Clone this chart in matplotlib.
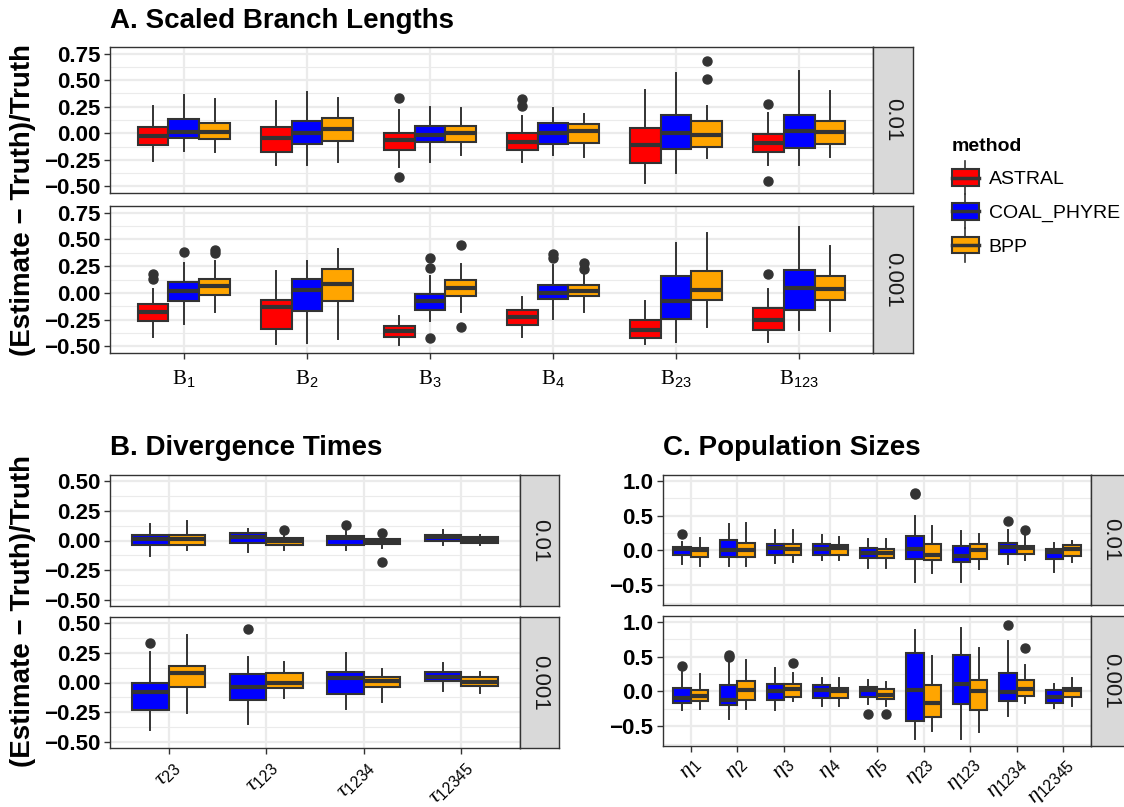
import matplotlib
matplotlib.use("Agg")
import matplotlib.pyplot as plt
from matplotlib.patches import Rectangle, Patch
from matplotlib.lines import Line2D
from matplotlib.legend_handler import HandlerBase

plt.rcParams['font.family'] = ['Liberation Sans', 'DejaVu Sans']
plt.rcParams['mathtext.fontset'] = 'custom'
plt.rcParams['mathtext.rm'] = 'Liberation Serif'
plt.rcParams['mathtext.it'] = 'Liberation Serif:italic'
plt.rcParams['mathtext.sf'] = 'Liberation Sans'

# ---- data: per box (whisker low, Q1, median, Q3, whisker high) ----
methods = ['ASTRAL', 'COAL_PHYRE', 'BPP']
colors = {'ASTRAL': '#FF0000', 'COAL_PHYRE': '#0000FF', 'BPP': '#FFA500'}
facets = ['0.01', '0.001']

# A. scaled branch lengths
a_labels = [r'$\mathrm{B}_{\mathsf{1}}$', r'$\mathrm{B}_{\mathsf{2}}$', r'$\mathrm{B}_{\mathsf{3}}$',
            r'$\mathrm{B}_{\mathsf{4}}$', r'$\mathrm{B}_{\mathsf{23}}$', r'$\mathrm{B}_{\mathsf{123}}$']

a_hi_astral = [[-0.26, -0.11, -0.03, 0.056, 0.26], [-0.30, -0.18, -0.04, 0.056, 0.30],
               [-0.32, -0.16, -0.06, 0.0, 0.22], [-0.27, -0.16, -0.08, 0.006, 0.16],
               [-0.47, -0.28, -0.11, 0.05, 0.41], [-0.30, -0.18, -0.09, -0.006, 0.19]]
a_hi_astral_out = [[], [], [0.33, -0.41], [0.32, 0.26], [], [0.28, -0.45]]
a_hi_coal = [[-0.17, -0.04, 0.015, 0.13, 0.36], [-0.30, -0.10, 0.005, 0.12, 0.39],
             [-0.27, -0.08, -0.02, 0.07, 0.25], [-0.20, -0.10, 0.0, 0.096, 0.24],
             [-0.37, -0.15, 0.0, 0.17, 0.57], [-0.30, -0.14, 0.02, 0.17, 0.59]]
a_hi_coal_out = [[], [], [], [], [], []]
a_hi_bpp = [[-0.18, -0.05, 0.01, 0.10, 0.32], [-0.27, -0.07, 0.04, 0.14, 0.33],
            [-0.20, -0.08, 0.0, 0.07, 0.24], [-0.22, -0.09, 0.02, 0.083, 0.18],
            [-0.23, -0.13, -0.02, 0.12, 0.26], [-0.22, -0.10, 0.01, 0.12, 0.40]]
a_hi_bpp_out = [[], [], [], [], [0.68, 0.51], []]

a_lo_astral = [[-0.41, -0.26, -0.18, -0.105, 0.04], [-0.48, -0.34, -0.13, -0.07, 0.20],
               [-0.49, -0.41, -0.36, -0.31, -0.22], [-0.41, -0.30, -0.23, -0.16, -0.04],
               [-0.48, -0.42, -0.35, -0.25, -0.08], [-0.46, -0.35, -0.25, -0.14, 0.04]]
a_lo_astral_out = [[0.18, 0.13], [], [], [], [], [0.18]]
a_lo_coal = [[-0.29, -0.08, 0.02, 0.10, 0.28], [-0.47, -0.17, 0.025, 0.13, 0.30],
             [-0.26, -0.16, -0.08, -0.008, 0.16], [-0.24, -0.06, 0.0, 0.075, 0.26],
             [-0.46, -0.24, -0.08, 0.16, 0.47], [-0.35, -0.16, 0.05, 0.21, 0.62]]
a_lo_coal_out = [[0.38], [], [0.33, 0.23, -0.42], [0.36, 0.33], [], []]
a_lo_bpp = [[-0.18, -0.02, 0.06, 0.13, 0.30], [-0.43, -0.08, 0.08, 0.22, 0.41],
            [-0.18, -0.03, 0.05, 0.12, 0.27], [-0.18, -0.03, 0.017, 0.07, 0.17],
            [-0.32, -0.07, 0.03, 0.20, 0.56], [-0.36, -0.07, 0.035, 0.16, 0.44]]
a_lo_bpp_out = [[0.40, 0.37], [], [0.45, -0.32], [0.28, 0.22], [], []]

# B. divergence times
b_labels = [r'$\tau_{\mathsf{23}}$', r'$\tau_{\mathsf{123}}$', r'$\tau_{\mathsf{1234}}$', r'$\tau_{\mathsf{12345}}$']

b_hi_coal = [[-0.13, -0.036, 0.01, 0.05, 0.14], [-0.10, -0.017, 0.03, 0.064, 0.10],
             [-0.08, -0.034, 0.02, 0.034, 0.08], [-0.036, -0.006, 0.03, 0.05, 0.09]]
b_hi_coal_out = [[], [], [0.13], []]
b_hi_bpp = [[-0.08, -0.036, 0.01, 0.05, 0.16], [-0.08, -0.034, -0.008, 0.02, 0.04],
            [-0.06, -0.03, -0.005, 0.014, 0.02], [-0.036, -0.017, 0.008, 0.028, 0.045]]
b_hi_bpp_out = [[], [0.09], [0.06, -0.18], []]

b_lo_coal = [[-0.40, -0.23, -0.08, -0.006, 0.26], [-0.35, -0.145, -0.04, 0.07, 0.21],
             [-0.22, -0.10, 0.04, 0.09, 0.25], [-0.07, 0.014, 0.05, 0.084, 0.16]]
b_lo_coal_out = [[0.33], [0.45], [], []]
b_lo_bpp = [[-0.26, -0.036, 0.08, 0.14, 0.40], [-0.13, -0.05, -0.008, 0.08, 0.17],
            [-0.16, -0.04, 0.01, 0.05, 0.11], [-0.09, -0.03, 0.006, 0.05, 0.09]]
b_lo_bpp_out = [[], [], [], []]

# C. population sizes
c_labels = [r'$\eta_{\mathsf{1}}$', r'$\eta_{\mathsf{2}}$', r'$\eta_{\mathsf{3}}$', r'$\eta_{\mathsf{4}}$',
            r'$\eta_{\mathsf{5}}$', r'$\eta_{\mathsf{23}}$', r'$\eta_{\mathsf{123}}$',
            r'$\eta_{\mathsf{1234}}$', r'$\eta_{\mathsf{12345}}$']

c_hi_coal = [[-0.19, -0.07, 0.02, 0.05, 0.12], [-0.23, -0.10, 0.01, 0.15, 0.38],
             [-0.18, -0.07, 0.03, 0.09, 0.29], [-0.14, -0.07, 0.025, 0.09, 0.22],
             [-0.25, -0.11, -0.03, 0.03, 0.17], [-0.45, -0.13, 0.015, 0.21, 0.50],
             [-0.46, -0.17, -0.08, 0.06, 0.28], [-0.19, -0.05, 0.05, 0.10, 0.30],
             [-0.31, -0.13, -0.02, 0.02, 0.10]]
c_hi_coal_out = [[0.23], [], [], [], [], [0.81, 0.83], [], [0.43], []]
c_hi_bpp = [[-0.23, -0.09, 0.005, 0.035, 0.18], [-0.23, -0.10, 0.01, 0.11, 0.39],
            [-0.16, -0.064, 0.02, 0.09, 0.30], [-0.14, -0.064, 0.03, 0.08, 0.19],
            [-0.25, -0.11, -0.04, 0.015, 0.16], [-0.33, -0.14, -0.06, 0.09, 0.35],
            [-0.26, -0.13, 0.005, 0.09, 0.24], [-0.14, -0.05, 0.03, 0.07, 0.24],
            [-0.17, -0.08, 0.015, 0.08, 0.14]]
c_hi_bpp_out = [[], [], [], [], [], [], [], [0.30], []]

c_lo_coal = [[-0.27, -0.16, -0.10, 0.05, 0.28], [-0.39, -0.20, -0.13, 0.09, 0.43],
             [-0.27, -0.13, 0.0, 0.10, 0.34], [-0.21, -0.09, 0.015, 0.09, 0.20],
             [-0.18, -0.074, 0.025, 0.064, 0.16], [-0.69, -0.42, 0.025, 0.55, 0.89],
             [-0.68, -0.18, 0.11, 0.52, 0.91], [-0.36, -0.14, -0.01, 0.26, 0.73],
             [-0.24, -0.17, -0.08, 0.025, 0.10]]
c_lo_coal_out = [[0.36], [0.53, 0.50], [], [], [-0.32], [], [], [0.96], []]
c_lo_bpp = [[-0.25, -0.14, -0.06, 0.025, 0.25], [-0.25, -0.12, 0.015, 0.15, 0.45],
            [-0.14, -0.08, 0.04, 0.11, 0.26], [-0.21, -0.09, 0.0, 0.054, 0.20],
            [-0.21, -0.11, -0.05, 0.03, 0.14], [-0.57, -0.37, -0.17, 0.09, 0.51],
            [-0.58, -0.26, 0.0, 0.17, 0.63], [-0.17, -0.06, 0.04, 0.16, 0.38],
            [-0.21, -0.074, 0.025, 0.054, 0.20]]
c_lo_bpp_out = [[], [], [0.41], [], [-0.32], [], [], [0.63], []]

W, H = 1124, 807
EDGE = '#333333'
GRID = '#EBEBEB'

fig = plt.figure(figsize=(W / 100, H / 100), dpi=100)


def rect(x0, y0, x1, y1):
    # pixel box (top-left origin) -> figure fraction rect
    return [x0 / W, 1 - y1 / H, (x1 - x0) / W, (y1 - y0) / H]


def fmt(v, nd):
    return f'{v:.{nd}f}'.replace('-', '\u2212')


def facet(box_px, strip_x1, label, groups, ylim, yticks, minors, nd, xlabels=None, rot=0):
    ax = fig.add_axes(rect(*box_px))
    n = len(groups[0][1])
    k = len(groups)
    w = 0.75 / k
    for j, (meth, stats, outs) in enumerate(groups):
        pos = [i + 1 + (j - (k - 1) / 2) * w for i in range(n)]
        bxs = [dict(whislo=s[0], q1=s[1], med=s[2], q3=s[3], whishi=s[4], fliers=o)
               for s, o in zip(stats, outs)]
        ax.bxp(bxs, positions=pos, widths=w, patch_artist=True, showcaps=False,
               manage_ticks=False,
               boxprops=dict(facecolor=colors[meth], edgecolor=EDGE, linewidth=1.5),
               medianprops=dict(color=EDGE, linewidth=3.0, solid_capstyle='butt'),
               whiskerprops=dict(color=EDGE, linewidth=1.4),
               flierprops=dict(marker='o', markerfacecolor=EDGE, markeredgecolor=EDGE,
                               markersize=6.5))
    ax.set_xlim(0.4, n + 0.6)
    ax.set_ylim(*ylim)
    ax.set_yticks(yticks)
    ax.set_yticklabels([fmt(t, nd) for t in yticks], fontsize=16, fontweight='bold')
    ax.set_yticks(minors, minor=True)
    ax.tick_params(axis='y', which='minor', length=0)
    ax.set_xticks(range(1, n + 1))
    ax.grid(which='major', color=GRID, linewidth=1.6)
    ax.grid(which='minor', axis='y', color=GRID, linewidth=0.8)
    ax.set_axisbelow(True)
    for sp in ax.spines.values():
        sp.set_color(EDGE)
        sp.set_linewidth(1.0)
    ax.tick_params(axis='both', which='major', length=4, width=1.0, color=EDGE, pad=3)
    if xlabels is None:
        ax.tick_params(axis='x', length=0, labelbottom=False)
    else:
        if rot:
            ax.set_xticklabels(xlabels, fontsize=16, rotation=rot, ha='right', va='top',
                               rotation_mode='anchor')
            ax.tick_params(axis='x', pad=2)
        else:
            ax.set_xticklabels(xlabels, fontsize=15)
            ax.tick_params(axis='x', pad=7)
    # facet strip on the right
    st = fig.add_axes(rect(box_px[2], box_px[1], strip_x1, box_px[3]))
    st.set_facecolor('#D9D9D9')
    st.set_xticks([])
    st.set_yticks([])
    for sp in st.spines.values():
        sp.set_color(EDGE)
        sp.set_linewidth(1.0)
    st.text(0.5, 0.5, label, rotation=-90, ha='center', va='center', fontsize=16,
            color='#1A1A1A', transform=st.transAxes)
    return ax


# panel A
a_ticks = [-0.5, -0.25, 0.0, 0.25, 0.5, 0.75]
a_minor = [-0.375, -0.125, 0.125, 0.375, 0.625]
facet((110, 47, 873, 193), 913, facets[0],
      [('ASTRAL', a_hi_astral, a_hi_astral_out), ('COAL_PHYRE', a_hi_coal, a_hi_coal_out),
       ('BPP', a_hi_bpp, a_hi_bpp_out)], (-0.5625, 0.8125), a_ticks, a_minor, 2)
facet((110, 206, 873, 353), 913, facets[1],
      [('ASTRAL', a_lo_astral, a_lo_astral_out), ('COAL_PHYRE', a_lo_coal, a_lo_coal_out),
       ('BPP', a_lo_bpp, a_lo_bpp_out)], (-0.5625, 0.8125), a_ticks, a_minor, 2,
      xlabels=a_labels)

# panel B
b_ticks = [-0.5, -0.25, 0.0, 0.25, 0.5]
b_minor = [-0.375, -0.125, 0.125, 0.375]
facet((110, 475, 520, 606), 559, facets[0],
      [('COAL_PHYRE', b_hi_coal, b_hi_coal_out), ('BPP', b_hi_bpp, b_hi_bpp_out)],
      (-0.55, 0.55), b_ticks, b_minor, 2)
facet((110, 617, 520, 748), 559, facets[1],
      [('COAL_PHYRE', b_lo_coal, b_lo_coal_out), ('BPP', b_lo_bpp, b_lo_bpp_out)],
      (-0.55, 0.55), b_ticks, b_minor, 2, xlabels=b_labels, rot=45)

# panel C
c_ticks = [-0.5, 0.0, 0.5, 1.0]
c_minor = [-0.75, -0.25, 0.25, 0.75]
facet((663, 475, 1091, 605), 1130, facets[0],
      [('COAL_PHYRE', c_hi_coal, c_hi_coal_out), ('BPP', c_hi_bpp, c_hi_bpp_out)],
      (-0.785, 1.085), c_ticks, c_minor, 1)
facet((663, 616, 1091, 746), 1130, facets[1],
      [('COAL_PHYRE', c_lo_coal, c_lo_coal_out), ('BPP', c_lo_bpp, c_lo_bpp_out)],
      (-0.785, 1.085), c_ticks, c_minor, 1, xlabels=c_labels, rot=45)

# titles and shared y labels
fig.text(110 / W, 1 - 21 / H, 'A. Scaled Branch Lengths', fontsize=20, fontweight='bold', va='center')
fig.text(110 / W, 1 - 448 / H, 'B. Divergence Times', fontsize=20, fontweight='bold', va='center')
fig.text(663 / W, 1 - 448 / H, 'C. Population Sizes', fontsize=20, fontweight='bold', va='center')
ylab = '(Estimate \u2212 Truth)/Truth'
fig.text(23 / W, 1 - 200 / H, ylab, rotation=90, fontsize=20, fontweight='bold', ha='center', va='center')
fig.text(23 / W, 1 - 611 / H, ylab, rotation=90, fontsize=20, fontweight='bold', ha='center', va='center')


class BoxKey(HandlerBase):
    def create_artists(self, legend, orig_handle, xdescent, ydescent, width, height, fontsize, trans):
        x0, y0 = -xdescent, -ydescent
        cx = x0 + width / 2
        whisk = Line2D([cx, cx], [y0 - 0.5 * height, y0 + 1.5 * height], color=EDGE, lw=1.2, transform=trans)
        body = Rectangle((x0, y0), width, height, facecolor=orig_handle.get_facecolor(),
                         edgecolor=EDGE, lw=1.5, transform=trans)
        med = Line2D([x0, x0 + width], [y0 + height / 2] * 2, color=EDGE, lw=2.5, transform=trans)
        return [whisk, body, med]


handles = [Patch(facecolor=colors[m]) for m in methods]
leg = fig.legend(handles, methods, handler_map={Patch: BoxKey()}, loc='upper left',
                 bbox_to_anchor=(936 / W, 1 - 122 / H), frameon=False, fontsize=14,
                 title='method', title_fontproperties={'weight': 'bold', 'size': 14},
                 alignment='left', handlelength=1.4, handleheight=0.95, labelspacing=0.75,
                 handletextpad=0.5, borderpad=0.3)

fig.savefig('out.png', dpi=100)
